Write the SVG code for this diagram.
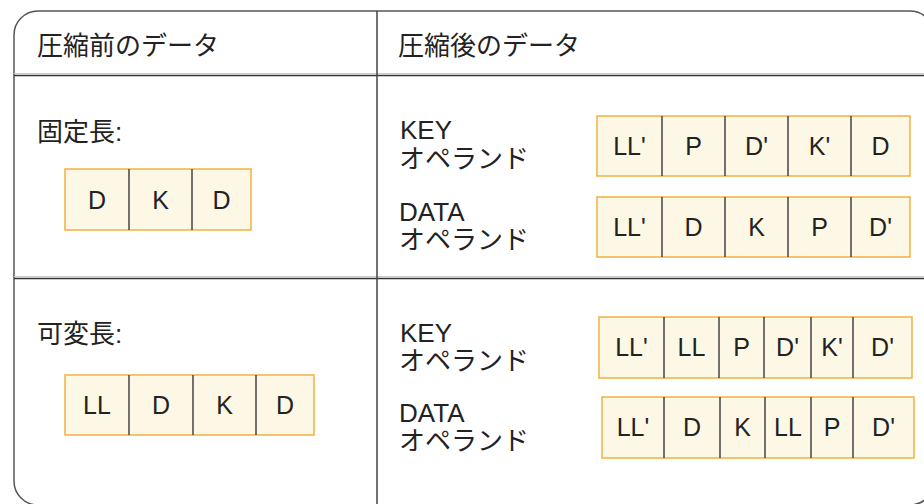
<svg xmlns="http://www.w3.org/2000/svg" width="924" height="504" viewBox="0 0 924 504">
<style>
.t{font-family:"Liberation Sans","Noto Sans CJK JP",sans-serif;font-size:26px;fill:#222}
.c{font-family:"Liberation Sans","Noto Sans CJK JP",sans-serif;font-size:25px;fill:#222;text-anchor:middle}
.box{fill:#fdf8e6;stroke:#f2b13f;stroke-width:1.5}
.div{stroke:#444;stroke-width:1.5}
.frame{fill:none;stroke:#555;stroke-width:1.5}
.rule{stroke:#333;stroke-width:1.5}
.shade{stroke:#ccc;stroke-width:1}
</style>
<rect width="924" height="504" fill="#fff"/>
<g id="frame">
<rect class="frame" x="14" y="11" width="920" height="494" rx="24"/>
<line class="shade" x1="14" y1="73.5" x2="924" y2="73.5"/>
<line class="rule" x1="14" y1="75.5" x2="924" y2="75.5"/>
<line class="shade" x1="14" y1="276.5" x2="924" y2="276.5"/>
<line class="rule" x1="14" y1="278.5" x2="924" y2="278.5"/>
<line class="div" x1="377" y1="11" x2="377" y2="504"/>
</g>
<g id="headers">
<text class="t" x="37" y="55">圧縮前のデータ</text>
<text class="t" x="398" y="55">圧縮後のデータ</text>
</g>
<g id="labels">
<text class="t" x="37" y="141">固定長:</text>
<text class="t" x="37" y="343">可変長:</text>
<text class="t" x="400" y="139">KEY</text>
<text class="t" x="399" y="168">オペランド</text>
<text class="t" x="399" y="221">DATA</text>
<text class="t" x="399" y="249">オペランド</text>
<text class="t" x="400" y="342">KEY</text>
<text class="t" x="399" y="370">オペランド</text>
<text class="t" x="399" y="422">DATA</text>
<text class="t" x="399" y="450">オペランド</text>
</g>
<g id="fixed-before">
<rect class="box" x="65" y="169" width="186" height="61"/>
<line class="div" x1="129" y1="169" x2="129" y2="230"/>
<line class="div" x1="192" y1="169" x2="192" y2="230"/>
<text class="c" x="97" y="208.5">D</text>
<text class="c" x="160.5" y="208.5">K</text>
<text class="c" x="221.5" y="208.5">D</text>
</g>
<g id="fixed-key">
<rect class="box" x="597" y="116" width="313" height="60"/>
<line class="div" x1="662" y1="116" x2="662" y2="176"/>
<line class="div" x1="725" y1="116" x2="725" y2="176"/>
<line class="div" x1="788" y1="116" x2="788" y2="176"/>
<line class="div" x1="851" y1="116" x2="851" y2="176"/>
<text class="c" x="629.5" y="155">LL'</text>
<text class="c" x="693.5" y="155">P</text>
<text class="c" x="756.5" y="155">D'</text>
<text class="c" x="819.5" y="155">K'</text>
<text class="c" x="880.5" y="155">D</text>
</g>
<g id="fixed-data">
<rect class="box" x="597" y="197" width="313" height="60"/>
<line class="div" x1="662" y1="197" x2="662" y2="257"/>
<line class="div" x1="725" y1="197" x2="725" y2="257"/>
<line class="div" x1="788" y1="197" x2="788" y2="257"/>
<line class="div" x1="851" y1="197" x2="851" y2="257"/>
<text class="c" x="629.5" y="236">LL'</text>
<text class="c" x="693.5" y="236">D</text>
<text class="c" x="756.5" y="236">K</text>
<text class="c" x="819.5" y="236">P</text>
<text class="c" x="880.5" y="236">D'</text>
</g>
<g id="var-before">
<rect class="box" x="65" y="375" width="249" height="60"/>
<line class="div" x1="129" y1="375" x2="129" y2="435"/>
<line class="div" x1="193" y1="375" x2="193" y2="435"/>
<line class="div" x1="256" y1="375" x2="256" y2="435"/>
<text class="c" x="97" y="414">LL</text>
<text class="c" x="161" y="414">D</text>
<text class="c" x="224.5" y="414">K</text>
<text class="c" x="285" y="414">D</text>
</g>
<g id="var-key">
<rect class="box" x="599" y="317" width="313" height="61"/>
<line class="div" x1="664" y1="317" x2="664" y2="378"/>
<line class="div" x1="719" y1="317" x2="719" y2="378"/>
<line class="div" x1="764" y1="317" x2="764" y2="378"/>
<line class="div" x1="811" y1="317" x2="811" y2="378"/>
<line class="div" x1="853" y1="317" x2="853" y2="378"/>
<text class="c" x="631.5" y="356">LL'</text>
<text class="c" x="691.5" y="356">LL</text>
<text class="c" x="741.5" y="356">P</text>
<text class="c" x="787.5" y="356">D'</text>
<text class="c" x="832" y="356">K'</text>
<text class="c" x="882.5" y="356">D'</text>
</g>
<g id="var-data">
<rect class="box" x="602" y="397" width="312" height="61"/>
<line class="div" x1="664" y1="397" x2="664" y2="458"/>
<line class="div" x1="720" y1="397" x2="720" y2="458"/>
<line class="div" x1="765" y1="397" x2="765" y2="458"/>
<line class="div" x1="811" y1="397" x2="811" y2="458"/>
<line class="div" x1="853" y1="397" x2="853" y2="458"/>
<text class="c" x="633" y="436">LL'</text>
<text class="c" x="692" y="436">D</text>
<text class="c" x="742.5" y="436">K</text>
<text class="c" x="788" y="436">LL</text>
<text class="c" x="832" y="436">P</text>
<text class="c" x="883.5" y="436">D'</text>
</g>
</svg>
